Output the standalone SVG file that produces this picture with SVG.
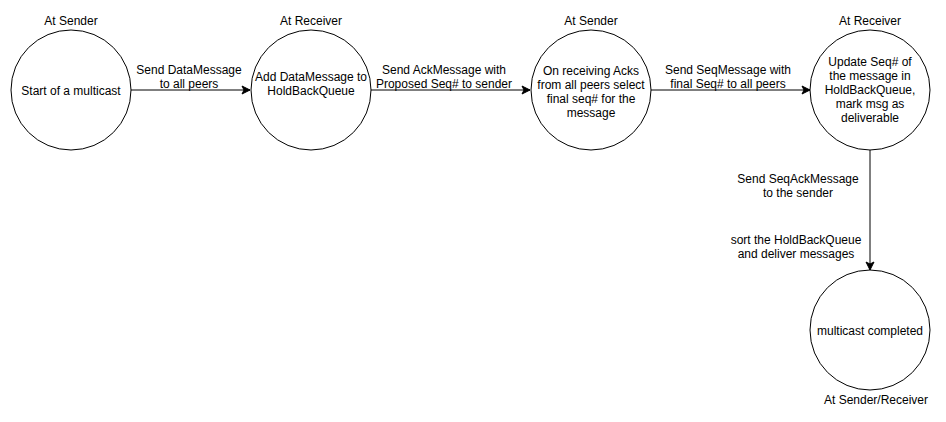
<svg xmlns="http://www.w3.org/2000/svg" width="946" height="422" viewBox="0 0 946 422">
<style>
.n{fill:#fff;stroke:#000;stroke-width:1}
.t{font-family:"Liberation Sans",Arial,sans-serif;font-size:12px;fill:#000;text-anchor:middle}
.e{stroke:#000;stroke-width:1;fill:none;marker-end:url(#a)}
</style>
<defs>
<marker id="a" viewBox="0 0 10 10" refX="9" refY="5" markerWidth="10" markerHeight="10" markerUnits="userSpaceOnUse" orient="auto">
<path d="M1,1 L9,5 L1,9 L3,5 Z" fill="#000" stroke="#000" stroke-width="1"/>
</marker>
</defs>
<rect width="946" height="422" fill="#fff"/>
<g id="connectors">
<path class="e" d="M131,90 H250"/>
<path class="e" d="M371,90 H530"/>
<path class="e" d="M651,90 H810"/>
<path class="e" d="M870,150 V270"/>
<text class="t" x="189" y="74">Send DataMessage</text>
<text class="t" x="189" y="88">to all peers</text>
<text class="t" x="444" y="74">Send AckMessage with</text>
<text class="t" x="444" y="88">Proposed Seq# to sender</text>
<text class="t" x="728" y="74">Send SeqMessage with</text>
<text class="t" x="728" y="88">final Seq# to all peers</text>
<text class="t" x="798" y="183">Send SeqAckMessage</text>
<text class="t" x="798" y="197">to the sender</text>
<text class="t" x="796" y="244">sort the HoldBackQueue</text>
<text class="t" x="796" y="258">and deliver messages</text>
</g>
<g id="n1">
<circle class="n" cx="71" cy="90" r="60"/>
<text class="t" x="71" y="25">At Sender</text>
<text class="t" x="71" y="95">Start of a multicast</text>
</g>
<g id="n2">
<circle class="n" cx="311" cy="90" r="60"/>
<text class="t" x="311" y="25">At Receiver</text>
<text class="t" x="311" y="81">Add DataMessage to</text>
<text class="t" x="311" y="95">HoldBackQueue</text>
</g>
<g id="n3">
<circle class="n" cx="591" cy="90" r="60"/>
<text class="t" x="591" y="75">On receiving Acks</text>
<text class="t" x="591" y="25">At Sender</text>
<text class="t" x="591" y="89">from all peers select</text>
<text class="t" x="591" y="103">final seq# for the</text>
<text class="t" x="591" y="117">message</text>
</g>
<g id="n4">
<circle class="n" cx="870" cy="90" r="60"/>
<text class="t" x="870" y="25">At Receiver</text>
<text class="t" x="870" y="66">Update Seq# of</text>
<text class="t" x="870" y="80">the message in</text>
<text class="t" x="870" y="94">HoldBackQueue,</text>
<text class="t" x="870" y="108">mark msg as</text>
<text class="t" x="870" y="122">deliverable</text>
</g>
<g id="n5">
<circle class="n" cx="870" cy="330" r="60"/>
<text class="t" x="870" y="335">multicast completed</text>
<text class="t" x="876" y="404">At Sender/Receiver</text>
</g>
</svg>
